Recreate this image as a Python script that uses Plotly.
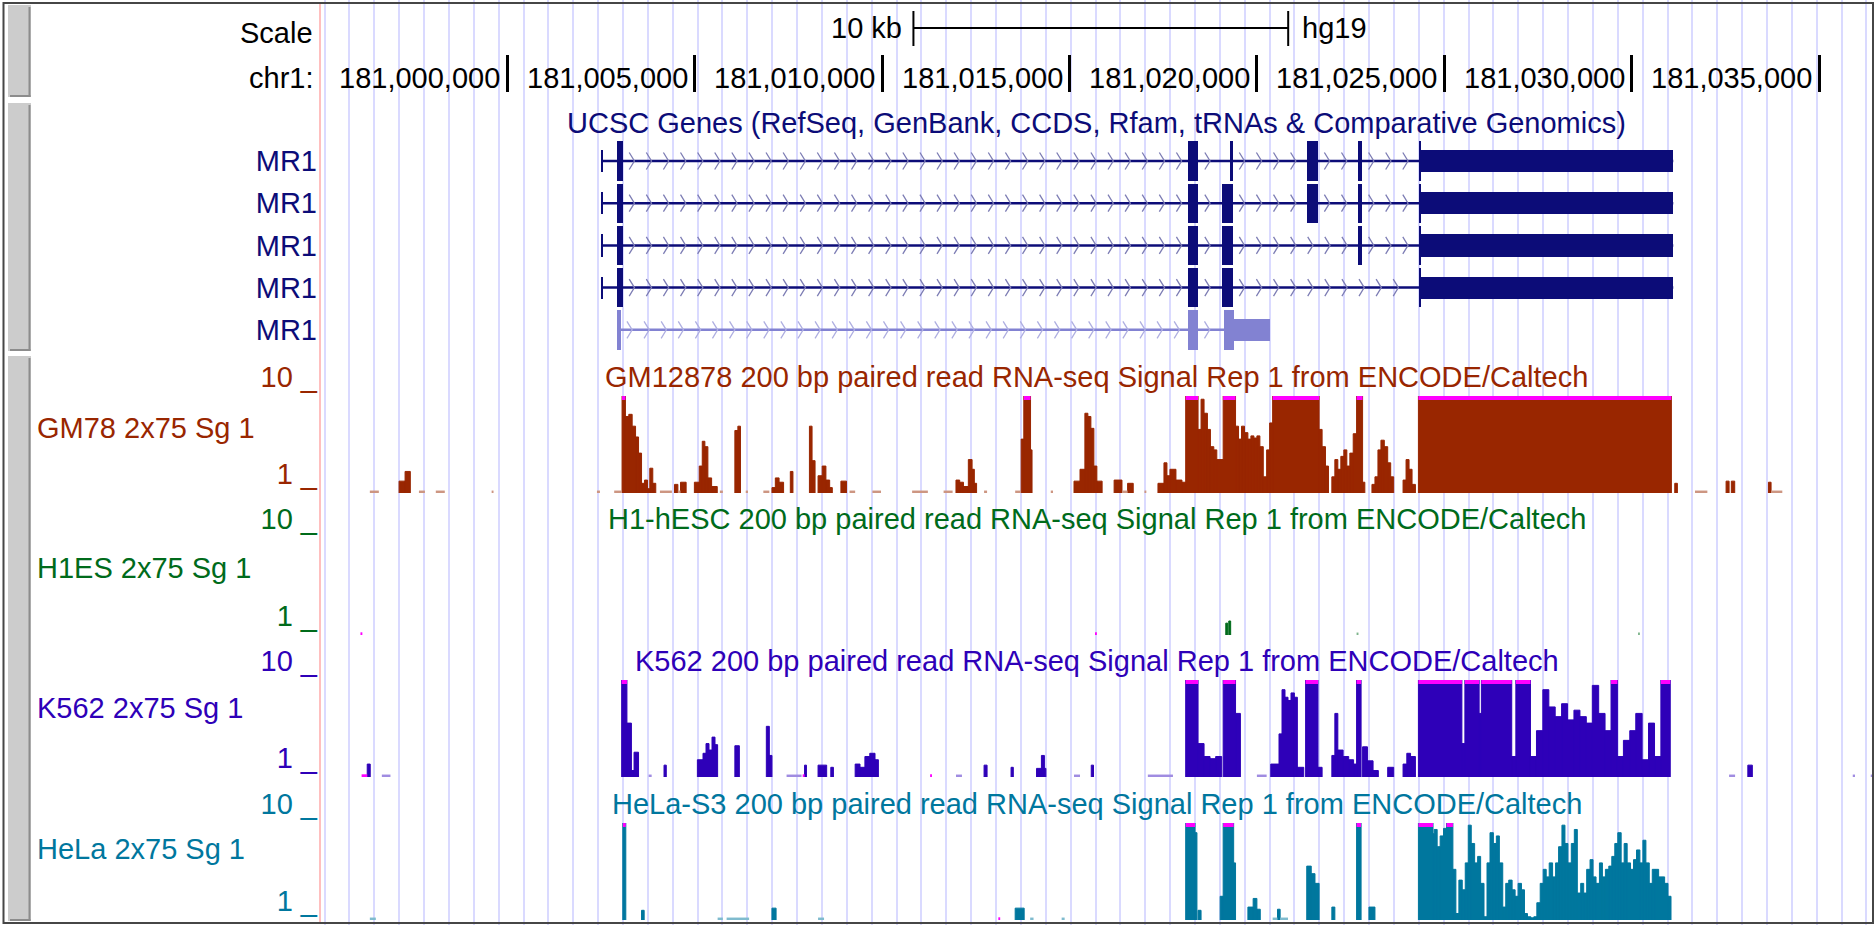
import plotly.graph_objects as go

W, H = 1874, 925
FONT = "Liberation Sans, Arial, Helvetica, sans-serif"
FS = 29

# ---------------- ruler / window (genomic bp) ----------------
ORIGIN = 181_000_000
VIEW_START = 180_995_000
VIEW_END = 181_036_440
RULER_TICKS = [181_000_000, 181_005_000, 181_010_000, 181_015_000,
               181_020_000, 181_025_000, 181_030_000, 181_035_000]
RULER_LABELS = ["181,000,000", "181,005,000", "181,010,000", "181,015,000",
                "181,020,000", "181,025,000", "181,030,000", "181,035,000"]
SCALE_BAR_START = 181_010_835
SCALE_BAR_BP = 10_000
SCALE_BAR_LABEL = "10 kb"
ASSEMBLY = "hg19"
CHROM_LABEL = "chr1:"
GUIDE_FIRST = 180_995_786
GUIDE_STEP_BP = 663.6

# ---------------- UCSC genes (kb offsets from ORIGIN) ----------------
GENE_TITLE = "UCSC Genes (RefSeq, GenBank, CCDS, Rfam, tRNAs & Comparative Genomics)"
GENE_NAMES = ["MR1", "MR1", "MR1", "MR1", "MR1"]
MR1_1 = [(2.50, 2.55, "utr"), (2.93, 3.08, "cds"), (18.17, 18.44, "cds"), (19.27, 19.36, "cds"),
         (21.35, 21.63, "cds"), (22.70, 22.81, "cds"), (24.34, 24.38, "cds"), (24.38, 31.11, "utr")]
MR1_2 = [(2.50, 2.55, "utr"), (2.93, 3.08, "cds"), (18.17, 18.44, "cds"), (19.07, 19.36, "cds"),
         (21.35, 21.63, "cds"), (22.70, 22.81, "cds"), (24.34, 24.38, "cds"), (24.38, 31.11, "utr")]
MR1_3 = [(2.50, 2.55, "utr"), (2.93, 3.08, "cds"), (18.17, 18.44, "cds"), (19.07, 19.36, "cds"),
         (22.70, 22.81, "cds"), (24.34, 24.38, "cds"), (24.38, 31.11, "utr")]
MR1_4 = [(2.50, 2.55, "utr"), (2.93, 3.08, "cds"), (18.17, 18.44, "cds"), (19.07, 19.36, "cds"),
         (24.34, 24.38, "cds"), (24.38, 31.11, "utr")]
MR1_5 = [(2.93, 3.02, "cds"), (18.17, 18.43, "cds"), (19.11, 19.40, "cds"), (19.40, 20.34, "utr")]
TRANSCRIPTS = [MR1_1, MR1_2, MR1_3, MR1_4, MR1_5]
NAVY = "rgb(12,12,120)"
LIGHT_GENE = "rgb(130,130,210)"
GENE_COLORS = [NAVY, NAVY, NAVY, NAVY, LIGHT_GENE]
ARROW_COLORS = ["rgb(125,125,180)"] * 4 + ["rgb(175,175,225)"]

# ---------------- RNA-seq signal tracks: (start_kb, end_kb, value) ----------------
GM_SIGNAL = [
    (-3.67, -3.43, 0.5), (-2.89, -2.73, 2.1), (-2.73, -2.59, 3.0),
    (-2.36, -2.20, 0.5), (-1.91, -1.67, 0.5), (-0.42, -0.37, 0.5),
    (2.39, 2.47, 0.5), (2.85, 3.05, 0.5),
    (3.06, 3.15, 12), (3.15, 3.24, 8.1), (3.24, 3.33, 8.3), (3.33, 3.42, 7.2), (3.42, 3.50, 6.2),
    (3.50, 3.58, 4.7), (3.58, 3.66, 1.9), (3.66, 3.74, 2.2), (3.74, 3.80, 1.4), (3.80, 3.88, 3.3),
    (3.88, 3.96, 1.9), (4.07, 4.39, 0.5),
    (4.46, 4.55, 1.8), (4.55, 4.62, 0.5), (4.62, 4.77, 2.0),
    (4.99, 5.12, 2.0), (5.12, 5.20, 3.5), (5.20, 5.27, 5.8), (5.27, 5.35, 5.3), (5.35, 5.45, 2.4),
    (5.45, 5.60, 1.6), (5.67, 5.75, 0.5),
    (6.07, 6.15, 6.8), (6.15, 6.22, 7.2), (6.36, 6.42, 0.5), (6.83, 6.99, 0.5),
    (7.06, 7.15, 1.5), (7.15, 7.25, 2.4), (7.25, 7.37, 2.0), (7.55, 7.62, 3.0),
    (8.06, 8.13, 7.2), (8.13, 8.21, 4.0),
    (8.29, 8.40, 2.6), (8.40, 8.50, 3.5), (8.50, 8.60, 2.2), (8.60, 8.67, 1.5),
    (8.90, 9.05, 2.1), (9.13, 9.28, 0.5), (9.74, 9.97, 0.5),
    (10.80, 11.22, 0.5), (11.64, 11.88, 0.5),
    (11.97, 12.07, 2.2), (12.07, 12.17, 2.0), (12.17, 12.30, 1.6), (12.30, 12.40, 4.1),
    (12.40, 12.46, 3.2), (12.46, 12.52, 1.9),
    (12.72, 12.80, 0.5), (13.55, 13.70, 0.5),
    (13.71, 13.78, 6.0), (13.78, 13.96, 12), (13.96, 14.00, 5.0), (14.50, 14.56, 0.5),
    (15.12, 15.28, 2.1), (15.28, 15.41, 3.2), (15.41, 15.49, 8.4), (15.49, 15.57, 8.1),
    (15.57, 15.65, 7.0), (15.65, 15.73, 3.5), (15.73, 15.87, 2.1),
    (16.19, 16.40, 2.2), (16.40, 16.55, 0.5), (16.55, 16.70, 1.9), (17.00, 17.05, 0.5),
    (17.36, 17.52, 1.9), (17.52, 17.60, 3.8), (17.60, 17.68, 2.6), (17.68, 17.84, 3.2),
    (17.84, 18.00, 2.2), (18.00, 18.10, 2.0),
    (18.10, 18.43, 12),
    (18.43, 18.51, 6.9), (18.51, 18.59, 9.7), (18.59, 18.68, 8.4), (18.68, 18.76, 6.9),
    (18.76, 18.85, 5.3), (18.85, 18.93, 5.0), (18.93, 19.10, 4.1),
    (19.10, 19.43, 12),
    (19.43, 19.51, 7.2), (19.51, 19.59, 6.0), (19.59, 19.67, 7.2), (19.67, 19.76, 6.6),
    (19.76, 19.84, 6.0), (19.84, 19.92, 6.3), (19.92, 20.00, 6.1), (20.00, 20.08, 6.3),
    (20.08, 20.17, 5.3), (20.17, 20.26, 2.5), (20.26, 20.34, 5.0), (20.34, 20.42, 7.5),
    (20.42, 21.66, 12),
    (21.66, 21.74, 6.9), (21.74, 21.83, 5.3), (21.83, 21.91, 3.5),
    (22.00, 22.08, 2.5), (22.08, 22.16, 4.1), (22.16, 22.24, 3.2), (22.24, 22.32, 4.4),
    (22.32, 22.40, 5.0), (22.40, 22.48, 3.5), (22.48, 22.57, 4.7), (22.57, 22.66, 6.5),
    (22.66, 22.82, 12), (22.82, 22.88, 2.0),
    (23.07, 23.15, 1.8), (23.15, 23.23, 2.5), (23.23, 23.31, 5.0), (23.31, 23.40, 5.9),
    (23.40, 23.49, 5.3), (23.49, 23.57, 3.8), (23.57, 23.65, 2.5),
    (23.90, 23.98, 2.2), (23.98, 24.06, 4.1), (24.06, 24.14, 3.2), (24.14, 24.23, 1.8),
    (24.31, 31.06, 12),
    (31.15, 31.22, 1.9), (31.69, 32.02, 0.5), (32.52, 32.60, 2.1), (32.66, 32.75, 2.1),
    (33.65, 33.72, 2.0), (33.72, 34.02, 0.5),
]
H1_SIGNAL = [
    (-3.92, -3.87, 0.1), (15.68, 15.73, 0.1), (19.17, 19.22, 2.1), (19.25, 19.30, 2.3),
    (22.66, 22.71, 0.5), (30.17, 30.22, 0.5),
]
K562_SIGNAL = [
    (-3.89, -3.74, 0.1), (-3.74, -3.66, 2.2), (-3.35, -3.12, 0.5),
    (3.05, 3.19, 12), (3.19, 3.31, 6.0), (3.31, 3.38, 1.6), (3.38, 3.50, 3.3),
    (3.77, 3.85, 0.5), (4.18, 4.24, 2.1),
    (5.07, 5.22, 2.6), (5.22, 5.30, 3.2), (5.30, 5.38, 4.1), (5.38, 5.46, 3.5), (5.46, 5.54, 4.7),
    (5.54, 5.61, 4.0), (6.07, 6.19, 3.9), (6.91, 6.99, 5.7), (6.99, 7.06, 3.0),
    (7.45, 7.85, 0.5), (7.88, 7.93, 0.1), (7.93, 7.98, 2.1),
    (8.29, 8.52, 2.1), (8.63, 8.70, 1.9),
    (9.28, 9.41, 2.2), (9.41, 9.54, 1.9), (9.54, 9.67, 2.9), (9.67, 9.81, 3.2), (9.81, 9.90, 2.6),
    (11.28, 11.33, 0.1), (11.97, 12.13, 0.5), (12.72, 12.80, 2.1), (13.44, 13.50, 1.9),
    (14.12, 14.25, 1.8), (14.25, 14.33, 3.0), (14.33, 14.37, 1.8),
    (15.12, 15.28, 0.5), (15.58, 15.64, 2.1), (17.09, 17.76, 0.5),
    (18.10, 18.43, 12), (18.43, 18.59, 4.1), (18.59, 18.75, 2.9), (18.75, 18.90, 2.7),
    (18.90, 19.06, 2.9),
    (19.10, 19.43, 12), (19.43, 19.56, 6.9), (20.00, 20.26, 0.5),
    (20.37, 20.59, 2.2), (20.59, 20.67, 5.0), (20.67, 20.75, 9.1), (20.75, 20.83, 8.4),
    (20.83, 20.91, 8.1), (20.91, 21.00, 8.8), (21.00, 21.08, 8.4), (21.08, 21.25, 1.9),
    (21.30, 21.63, 12), (21.63, 21.74, 1.9),
    (22.00, 22.08, 3.0), (22.08, 22.16, 6.9), (22.16, 22.30, 3.5), (22.30, 22.45, 2.9),
    (22.45, 22.58, 2.6), (22.58, 22.66, 2.2), (22.66, 22.78, 12),
    (22.82, 22.95, 3.8), (22.95, 23.10, 2.5), (23.10, 23.24, 1.6), (23.49, 23.65, 1.9),
    (23.90, 24.00, 2.2), (24.00, 24.10, 3.2), (24.10, 24.23, 2.9),
    (24.31, 25.47, 12), (25.47, 25.55, 4.1), (25.55, 25.93, 12), (25.93, 25.99, 6.9),
    (25.99, 26.80, 12), (26.80, 26.91, 2.9), (26.91, 27.30, 12),
    (27.30, 27.46, 2.9), (27.46, 27.63, 5.3), (27.63, 27.79, 9.1), (27.79, 27.96, 7.5),
    (27.96, 28.13, 6.6), (28.13, 28.29, 7.8), (28.29, 28.46, 6.3), (28.46, 28.62, 7.2),
    (28.62, 28.79, 6.6), (28.79, 28.95, 6.0), (28.95, 29.12, 9.5), (29.12, 29.29, 6.9),
    (29.29, 29.45, 5.3), (29.45, 29.62, 12), (29.62, 29.78, 2.9), (29.78, 29.95, 4.4),
    (29.95, 30.11, 5.3), (30.11, 30.28, 6.9), (30.28, 30.45, 2.6), (30.45, 30.61, 6.0),
    (30.61, 30.78, 2.9), (30.78, 31.03, 12),
    (32.60, 32.76, 0.5), (33.10, 33.22, 2.1), (35.90, 35.96, 0.5), (36.38, 36.44, 0.5),
]
HELA_SIGNAL = [
    (-3.67, -3.51, 0.5), (3.08, 3.16, 12), (3.58, 3.65, 1.9),
    (5.61, 5.75, 0.5), (5.85, 6.45, 0.5), (7.06, 7.17, 2.1), (8.29, 8.45, 0.5),
    (13.10, 13.15, 0.1), (13.55, 13.79, 2.1), (13.95, 14.04, 0.5), (14.79, 14.87, 0.5),
    (18.10, 18.35, 12), (18.35, 18.40, 9.1), (18.43, 18.51, 1.9),
    (19.02, 19.10, 3.2), (19.10, 19.38, 12), (19.38, 19.43, 6.3),
    (19.76, 19.90, 2.2), (19.90, 20.00, 3.0), (20.00, 20.09, 2.0),
    (20.42, 20.55, 0.5), (20.55, 20.62, 2.0), (20.62, 20.83, 0.5),
    (21.33, 21.45, 6.0), (21.45, 21.55, 5.3), (21.55, 21.66, 4.4),
    (22.00, 22.08, 2.2), (22.66, 22.78, 12), (22.99, 23.15, 2.2),
    (24.31, 24.70, 12), (24.70, 24.73, 9.0),
    (24.73, 24.81, 9.4), (24.81, 24.89, 7.8), (24.89, 24.98, 8.8), (24.98, 25.06, 9.5),
    (25.06, 25.23, 12), (25.23, 25.31, 5.7), (25.31, 25.39, 1.6), (25.39, 25.48, 4.7),
    (25.48, 25.56, 3.8), (25.56, 25.64, 6.3), (25.64, 25.72, 9.8), (25.72, 25.81, 8.1),
    (25.81, 25.89, 6.3), (25.89, 25.97, 6.9), (25.97, 26.06, 4.4), (26.06, 26.14, 1.3),
    (26.14, 26.22, 6.3), (26.22, 26.31, 9.1), (26.31, 26.39, 8.1), (26.39, 26.47, 8.8),
    (26.47, 26.56, 6.3), (26.56, 26.64, 2.2), (26.64, 26.72, 4.4), (26.72, 26.81, 4.7),
    (26.81, 26.89, 3.8), (26.89, 26.97, 3.2), (26.97, 27.06, 4.4), (27.06, 27.14, 3.8),
    (27.14, 27.22, 1.6), (27.22, 27.31, 1.3), (27.31, 27.39, 1.2), (27.39, 27.47, 1.3),
    (27.47, 27.56, 2.6), (27.56, 27.64, 4.4), (27.64, 27.72, 5.7), (27.72, 27.80, 5.0),
    (27.80, 27.89, 6.3), (27.89, 27.97, 5.0), (27.97, 28.05, 6.3), (28.05, 28.14, 7.8),
    (28.14, 28.22, 9.8), (28.22, 28.30, 8.1), (28.30, 28.39, 6.3), (28.39, 28.47, 8.1),
    (28.47, 28.55, 9.4), (28.55, 28.64, 3.5), (28.64, 28.72, 4.4), (28.72, 28.80, 3.5),
    (28.80, 28.89, 5.7), (28.89, 28.97, 6.6), (28.97, 29.05, 5.0), (29.05, 29.14, 4.4),
    (29.14, 29.22, 6.3), (29.22, 29.30, 5.0), (29.30, 29.39, 5.7), (29.39, 29.47, 6.0),
    (29.47, 29.55, 6.9), (29.55, 29.63, 8.1), (29.63, 29.72, 9.1), (29.72, 29.80, 6.3),
    (29.80, 29.88, 8.1), (29.88, 29.97, 6.3), (29.97, 30.05, 5.7), (30.05, 30.13, 6.6),
    (30.13, 30.22, 7.5), (30.22, 30.30, 6.3), (30.30, 30.38, 8.4), (30.38, 30.47, 6.3),
    (30.47, 30.55, 4.4), (30.55, 30.63, 5.7), (30.63, 30.72, 5.7), (30.72, 30.80, 5.0),
    (30.80, 30.88, 5.0), (30.88, 30.97, 4.4), (30.97, 31.05, 3.2),
]
TRACK_SIGNALS = [GM_SIGNAL, H1_SIGNAL, K562_SIGNAL, HELA_SIGNAL]
TRACK_TITLES = [
    "GM12878 200 bp paired read RNA-seq Signal Rep 1 from ENCODE/Caltech",
    "H1-hESC 200 bp paired read RNA-seq Signal Rep 1 from ENCODE/Caltech",
    "K562 200 bp paired read RNA-seq Signal Rep 1 from ENCODE/Caltech",
    "HeLa-S3 200 bp paired read RNA-seq Signal Rep 1 from ENCODE/Caltech",
]
TRACK_SHORT = ["GM78 2x75 Sg 1", "H1ES 2x75 Sg 1", "K562 2x75 Sg 1", "HeLa 2x75 Sg 1"]
TRACK_COLORS = ["rgb(153,38,0)", "rgb(0,107,27)", "rgb(46,0,184)", "rgb(0,119,158)"]
TRACK_LIGHT = ["rgb(205,150,130)", "rgb(127,181,141)", "rgb(160,140,225)", "rgb(127,187,206)"]
VIEW_MIN, VIEW_MAX = 1, 10
CLIP_COLOR = "rgb(255,0,255)"

# ---------------- layout constants (window pixels) ----------------
DATA_LEFT_PX, DATA_RIGHT_PX = 320, 1873
LABEL_RIGHT_PX = 315
ROW1_PX, ROW_STEP_PX = 161, 42.2
TRACK_TOPS_PX = [396, 538, 680, 823]
TRACK_H_PX = 97
SIDE_LABEL_OFFSETS = [32, 30, 28, 26]


def pxx(p):
    return p / W


def pxy(p):
    return 1 - p / H


def bp(kb):
    return ORIGIN + kb * 1000


BP_PER_PX = (VIEW_END - VIEW_START) / (DATA_RIGHT_PX - DATA_LEFT_PX)

fig = go.Figure()

fig.add_trace(go.Scatter(x=[VIEW_START], y=[0], mode="markers", marker=dict(opacity=0),
                         xaxis="x", yaxis="y", showlegend=False, hoverinfo="skip"))
fig.add_trace(go.Scatter(x=[VIEW_START], y=[0], mode="markers", marker=dict(opacity=0),
                         xaxis="x2", yaxis="y", showlegend=False, hoverinfo="skip"))

# ---------------- genes ----------------
for i, (tx, col, acol) in enumerate(zip(TRANSCRIPTS, GENE_COLORS, ARROW_COLORS)):
    row = i + 1
    fig.add_trace(go.Scatter(x=[bp(tx[0][0]), bp(tx[-1][1])], y=[row, row], mode="lines",
                             line=dict(color=col, width=2.5), xaxis="x", yaxis="y2",
                             showlegend=False, hoverinfo="skip"))
    ax, ay = [], []
    half_w = 2.6 * BP_PER_PX
    half_h = 8.5 / ROW_STEP_PX
    margin = 9 * BP_PER_PX
    step = 17.1 * BP_PER_PX
    for a, b in zip(tx[:-1], tx[1:]):
        s, e = bp(a[1]), bp(b[0])
        p = s + margin
        while p <= e - margin:
            ax += [p - half_w, p + half_w, p - half_w, None]
            ay += [row - half_h, row, row + half_h, None]
            p += step
    fig.add_trace(go.Scatter(x=ax, y=ay, mode="lines", line=dict(color=acol, width=1.3),
                             xaxis="x", yaxis="y2", showlegend=False, hoverinfo="skip"))
    fig.add_trace(go.Bar(orientation="h", y=[row] * len(tx),
                         base=[bp(s) for s, e, k in tx],
                         x=[(e - s) * 1000 for s, e, k in tx],
                         width=[0.93 if k == "cds" else 0.53 for s, e, k in tx],
                         marker=dict(color=col, line=dict(width=0)),
                         xaxis="x", yaxis="y2", showlegend=False, hoverinfo="skip"))

# ---------------- signal tracks ----------------
clip_y = VIEW_MAX - (VIEW_MAX - VIEW_MIN) * 2.0 / TRACK_H_PX
low_y = VIEW_MIN + (VIEW_MAX - VIEW_MIN) * 1.2 / TRACK_H_PX
for t, (blocks, col, light) in enumerate(zip(TRACK_SIGNALS, TRACK_COLORS, TRACK_LIGHT)):
    ya = "y%d" % (t + 3)
    xs, ys = [], []
    for s, e, v in blocks:
        if v >= VIEW_MIN:
            xs += [bp(s), bp(s), bp(e), bp(e)]
            ys += [0, v, v, 0]
    if xs:
        fig.add_trace(go.Scatter(x=xs, y=ys, mode="lines", fill="tozeroy", fillcolor=col,
                                 line=dict(color=col, width=1), xaxis="x", yaxis=ya,
                                 showlegend=False, hoverinfo="skip"))
    cx, cy = [], []
    for s, e, v in blocks:
        if v > VIEW_MAX:
            cx += [bp(s), bp(e), None]
            cy += [clip_y, clip_y, None]
    if cx:
        fig.add_trace(go.Scatter(x=cx, y=cy, mode="lines", line=dict(color=CLIP_COLOR, width=4),
                                 xaxis="x", yaxis=ya, showlegend=False, hoverinfo="skip"))
    lx, ly, mx, my = [], [], [], []
    for s, e, v in blocks:
        if 0.3 <= v < VIEW_MIN:
            lx += [bp(s), bp(e), None]
            ly += [low_y, low_y, None]
        elif v < 0.3:
            mx += [bp(s), bp(e), None]
            my += [low_y, low_y, None]
    if lx:
        fig.add_trace(go.Scatter(x=lx, y=ly, mode="lines", line=dict(color=light, width=2.5),
                                 xaxis="x", yaxis=ya, showlegend=False, hoverinfo="skip"))
    if mx:
        fig.add_trace(go.Scatter(x=mx, y=my, mode="lines", line=dict(color=CLIP_COLOR, width=3),
                                 xaxis="x", yaxis=ya, showlegend=False, hoverinfo="skip"))

# ---------------- layout ----------------
layout = dict(
    width=W, height=H, margin=dict(l=0, r=0, t=0, b=0, autoexpand=False),
    paper_bgcolor="white", plot_bgcolor="rgba(0,0,0,0)",
    showlegend=False, barmode="overlay", bargap=0,
    font=dict(family=FONT, size=FS, color="black"),
    xaxis=dict(domain=[pxx(DATA_LEFT_PX), pxx(DATA_RIGHT_PX)], range=[VIEW_START, VIEW_END],
               tickmode="linear", tick0=GUIDE_FIRST, dtick=GUIDE_STEP_BP,
               showgrid=True, gridcolor="rgb(218,218,255)", gridwidth=2, automargin=False,
               showticklabels=False, ticks="", zeroline=False, showline=False, anchor="y"),
    xaxis2=dict(overlaying="x", range=[VIEW_START, VIEW_END], anchor="free", automargin=False,
                position=pxy(92), side="bottom", tickmode="array", tickvals=RULER_TICKS,
                ticks="inside", ticklen=37, tickwidth=3, tickcolor="black",
                showticklabels=False, showgrid=False, zeroline=False, showline=False),
    yaxis=dict(domain=[0, 1], range=[0, 1], visible=False, anchor="x", automargin=False),
    yaxis2=dict(domain=[pxy(ROW1_PX + 4.5 * ROW_STEP_PX), pxy(ROW1_PX - 0.5 * ROW_STEP_PX)],
                range=[5.5, 0.5], anchor="x", tickmode="array", automargin=False,
                tickvals=[1, 2, 3, 4, 5], ticktext=GENE_NAMES, ticks="",
                tickfont=dict(color=NAVY, size=FS, family=FONT), ticklabelstandoff=2,
                showgrid=False, zeroline=False, showline=False),
)
for t in range(4):
    top = TRACK_TOPS_PX[t]
    layout["yaxis%d" % (t + 3)] = dict(
        domain=[pxy(top + TRACK_H_PX), pxy(top)], range=[VIEW_MIN, VIEW_MAX], anchor="x",
        tickmode="array", tickvals=[VIEW_MIN, VIEW_MAX], automargin=False,
        ticktext=["%d _" % VIEW_MIN, "%d _" % VIEW_MAX], ticks="",
        tickfont=dict(color=TRACK_COLORS[t], size=FS, family=FONT),
        ticklabelshift=-19, ticklabelstandoff=2,
        showgrid=False, zeroline=False, showline=False)

annotations = []


def txt(text, x, y, xanchor, color="black", xref="paper", xshift=0):
    annotations.append(dict(text=text, x=x, y=y, xref=xref, yref="paper", xanchor=xanchor,
                            yanchor="middle", showarrow=False, xshift=xshift,
                            font=dict(family=FONT, size=FS, color=color)))


txt("Scale", pxx(LABEL_RIGHT_PX), pxy(33), "right")
txt(CHROM_LABEL, pxx(LABEL_RIGHT_PX), pxy(78), "right")
for tv, tl in zip(RULER_TICKS, RULER_LABELS):
    txt(tl, tv, pxy(78), "right", xref="x", xshift=-5)
txt(SCALE_BAR_LABEL, SCALE_BAR_START, pxy(28), "right", xref="x", xshift=-9)
txt(ASSEMBLY, SCALE_BAR_START + SCALE_BAR_BP, pxy(28), "left", xref="x", xshift=12)
txt(GENE_TITLE, (VIEW_START + VIEW_END) / 2, pxy(123), "center", color=NAVY, xref="x")
for t in range(4):
    top = TRACK_TOPS_PX[t]
    txt(TRACK_TITLES[t], (VIEW_START + VIEW_END) / 2, pxy(top - 19.5), "center",
        color=TRACK_COLORS[t], xref="x")
    txt(TRACK_SHORT[t], pxx(35), pxy(top + SIDE_LABEL_OFFSETS[t]), "left", color=TRACK_COLORS[t])
layout["annotations"] = annotations

shapes = []
for y0, y1 in [(5, 97), (103, 351), (356, 921)]:
    shapes.append(dict(type="rect", xref="paper", yref="paper", x0=pxx(8), x1=pxx(31),
                       y0=pxy(y1), y1=pxy(y0), fillcolor="rgb(204,204,204)", line=dict(width=0)))
    shapes.append(dict(type="line", xref="paper", yref="paper", x0=pxx(29.5), x1=pxx(29.5),
                       y0=pxy(y1), y1=pxy(y0 + 2), line=dict(color="rgb(140,140,140)", width=2)))
    shapes.append(dict(type="line", xref="paper", yref="paper", x0=pxx(10), x1=pxx(30.5),
                       y0=pxy(y1 - 1), y1=pxy(y1 - 1), line=dict(color="rgb(140,140,140)", width=2)))
shapes.append(dict(type="line", xref="paper", yref="paper", x0=pxx(320), x1=pxx(320),
                   y0=pxy(923), y1=pxy(3), line=dict(color="rgb(255,170,170)", width=1.5)))
sb0, sb1 = SCALE_BAR_START, SCALE_BAR_START + SCALE_BAR_BP
shapes.append(dict(type="line", xref="x", yref="paper", x0=sb0, x1=sb1, y0=pxy(28), y1=pxy(28),
                   line=dict(color="black", width=2)))
for xv in (sb0, sb1):
    shapes.append(dict(type="line", xref="x", yref="paper", x0=xv, x1=xv, y0=pxy(46), y1=pxy(11),
                       line=dict(color="black", width=2)))
shapes.append(dict(type="rect", xref="paper", yref="paper", x0=pxx(3.5), x1=pxx(1873),
                   y0=pxy(923), y1=pxy(3), line=dict(color="rgb(70,70,70)", width=2),
                   fillcolor="rgba(0,0,0,0)"))
layout["shapes"] = shapes

fig.update_layout(**layout)
fig.write_html(
    "out.html",
    config={"displayModeBar": False},
    post_script=("document.documentElement.style.margin='0';document.body.style.margin='0';"
                 "document.body.style.padding='0';document.documentElement.style.overflow='hidden';"
                 "document.body.style.overflow='hidden';"),
)
